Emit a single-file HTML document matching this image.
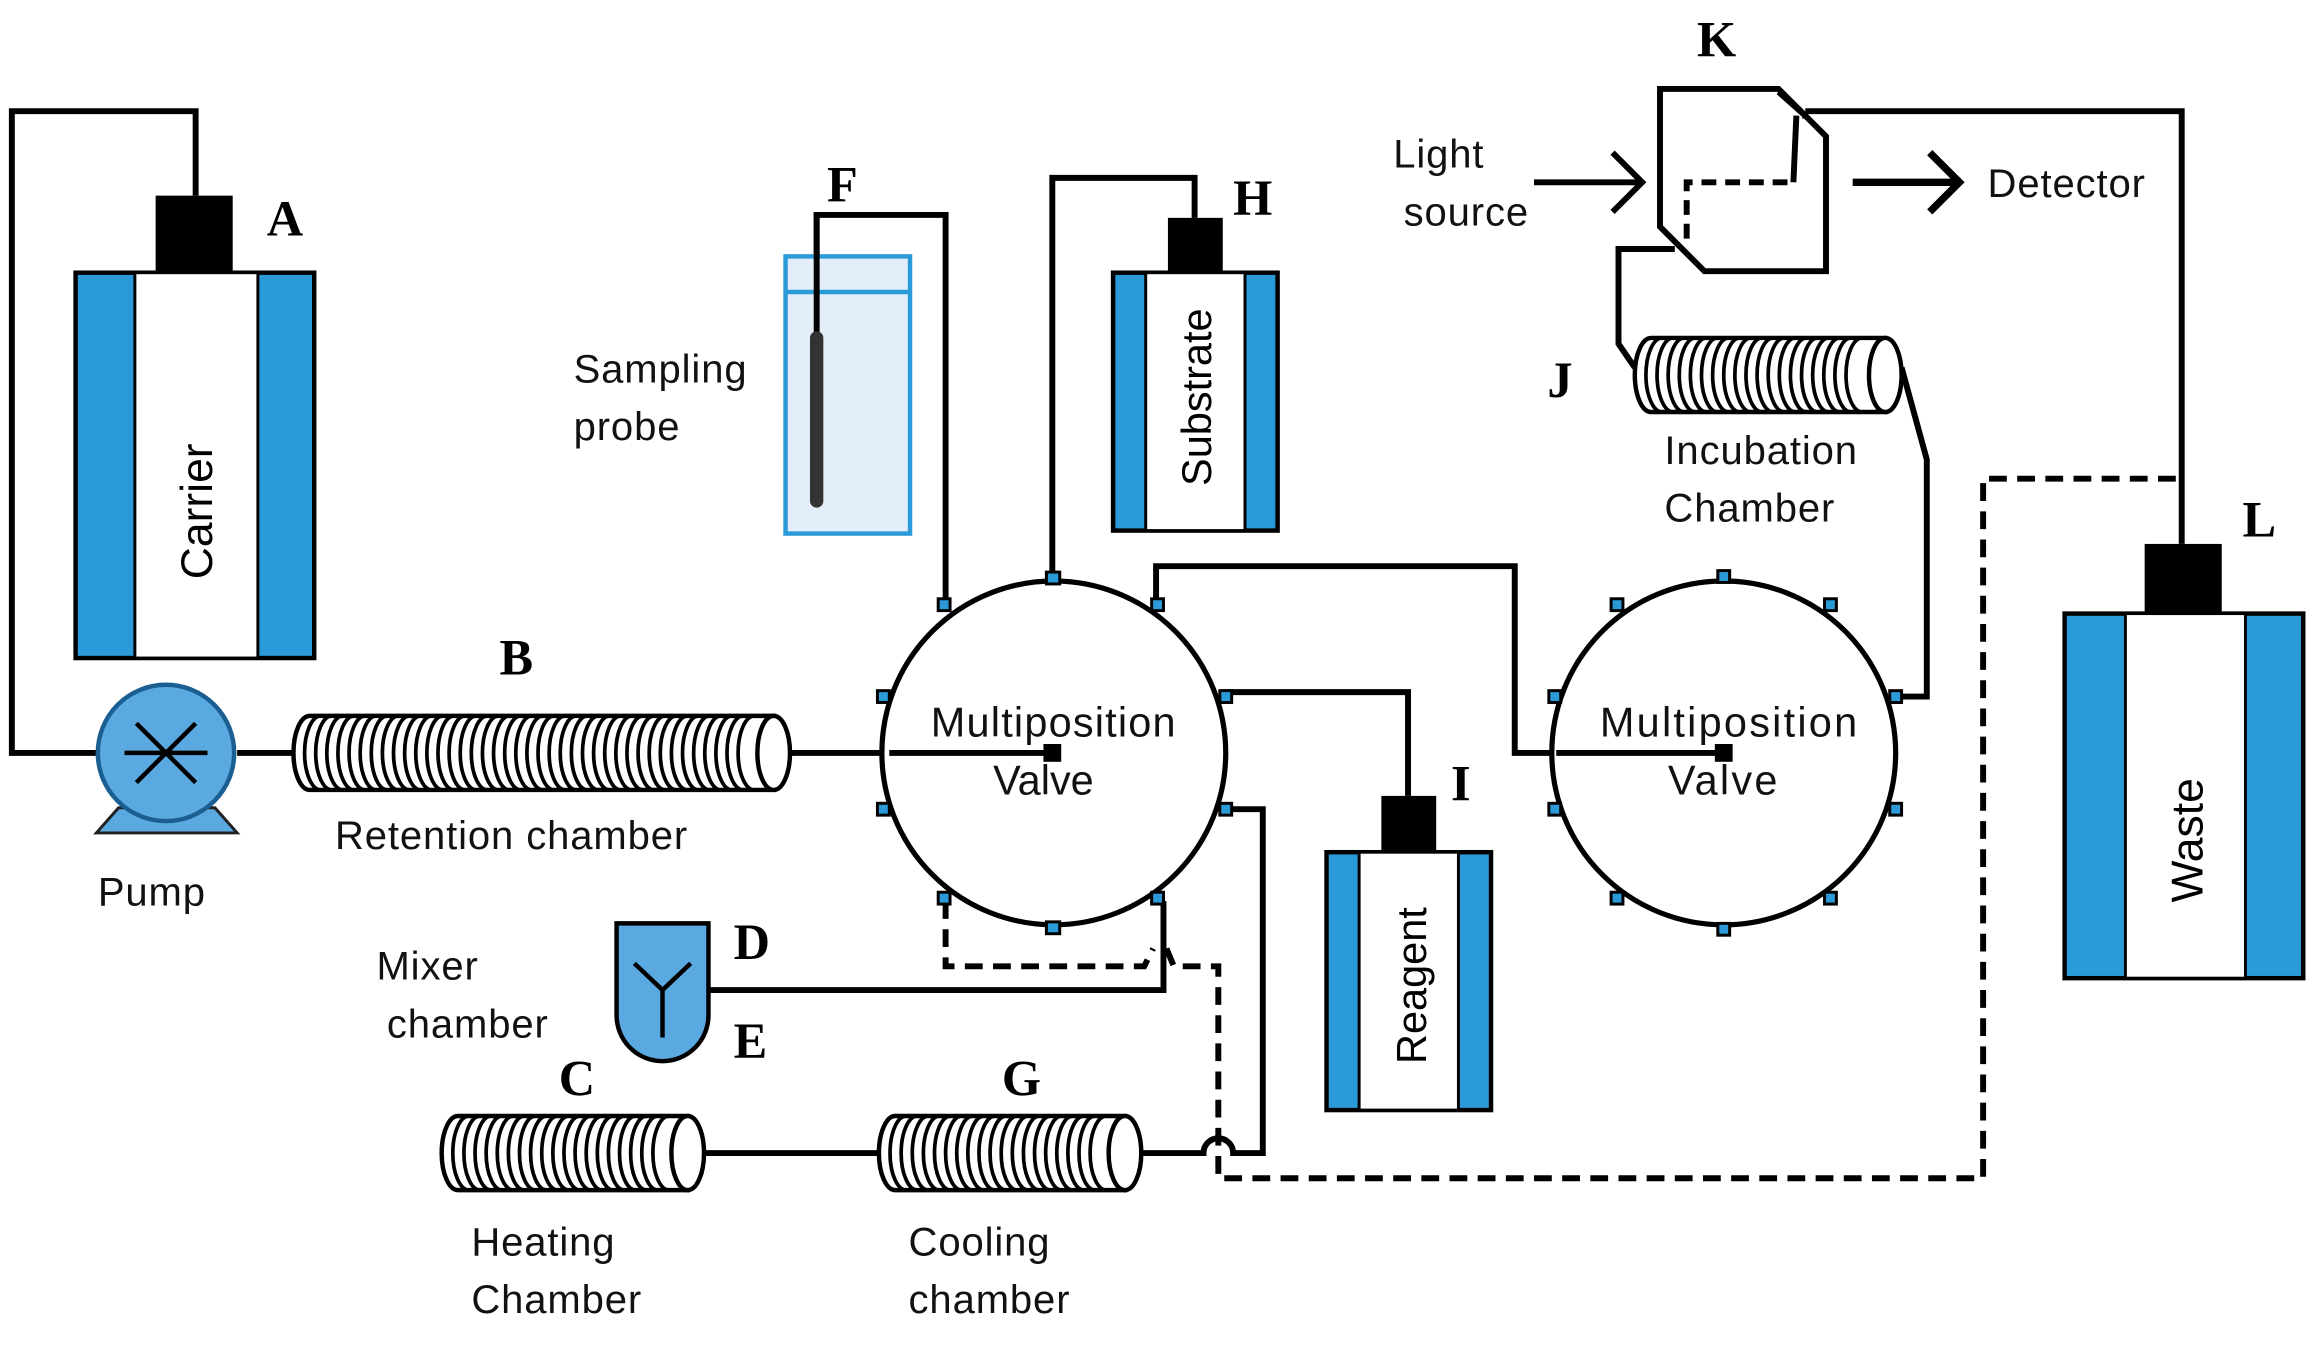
<!DOCTYPE html>
<html><head><meta charset="utf-8"><style>html,body{margin:0;padding:0;background:#fff}svg{display:block}</style></head>
<body>
<svg width="2324" height="1345" viewBox="0 0 1568 907.5" preserveAspectRatio="none" xmlns="http://www.w3.org/2000/svg">
<g stroke="#000" stroke-width="4" fill="none" stroke-linejoin="miter">
<path d="M132,132 V75 H8 V508 H65"/>
<path d="M160,508 H200"/>
<path d="M533,508 H710"/>
<path d="M551,228 V145 H638 V408"/>
<path d="M806,147 V120 H710 V392"/>
<path d="M780,408 V382 H1022 V508 H1163"/>
<path d="M950,537 V467 H825"/>
<path d="M827,546 H852 V778 H832 a10 10 0 0 0 -20 0 H770"/>
<path d="M475,778 H593"/>
<path d="M478,668 H785 V608"/>
<path d="M1472,367 V75 H1218"/>
<path d="M1130,168 H1092 V232 L1103,248"/>
<path d="M1283,248 L1300,310 V470 H1278"/>
<path d="M638,608 V652 H772 L778,640 M787,640 L792,652 H822 V795 H1338 V323 H1472" stroke-dasharray="12,7"/>
<path d="M1035,123 H1105 M1088,103 L1108,123 L1088,143"/>
<path d="M1250,123 H1322 M1302,103 L1322,123 L1302,143" stroke-width="5"/>
</g>
<g stroke="#000" stroke-width="4" fill="#fff">
<path d="M1120,60 H1200 L1232,92 V183 H1150 L1120,153 Z"/>
<path d="M1212,78 L1210,123" fill="none"/>
<path d="M1206,123 H1138 V162" fill="none" stroke-dasharray="10,6"/>
<path d="M1200,62 L1218,78 V80" fill="none"/>
</g>
<rect x="51" y="184" width="161" height="260" fill="#2a9bd8" stroke="#000" stroke-width="3"/>
<rect x="91" y="184" width="83" height="260" fill="#fff" stroke="#000" stroke-width="2"/>
<rect x="105" y="132" width="52" height="51" fill="#000"/>
<text transform="translate(143,345) rotate(-90)" font-family="Liberation Sans, sans-serif" font-size="30" text-anchor="middle">Carrier</text>
<path d="M65,562 L80,545 H145 L160,562 Z" fill="#5aa9e0" stroke="#222" stroke-width="2"/>
<circle cx="112" cy="508" r="46" fill="#5aa9e0" stroke="#1b5f92" stroke-width="3"/>
<path d="M84,508 H140 M92,488 L132,528 M132,488 L92,528" stroke="#000" stroke-width="3"/>
<rect x="751" y="184" width="111" height="174" fill="#2a9bd8" stroke="#000" stroke-width="3"/>
<rect x="773" y="184" width="67" height="174" fill="#fff" stroke="#000" stroke-width="2"/>
<rect x="788" y="147" width="37" height="37" fill="#000"/>
<text transform="translate(817,268) rotate(-90)" font-family="Liberation Sans, sans-serif" font-size="28" text-anchor="middle">Substrate</text>
<rect x="895" y="575" width="111" height="174" fill="#2a9bd8" stroke="#000" stroke-width="3"/>
<rect x="917" y="575" width="67" height="174" fill="#fff" stroke="#000" stroke-width="2"/>
<rect x="932" y="537" width="37" height="38" fill="#000"/>
<text transform="translate(962,665) rotate(-90)" font-family="Liberation Sans, sans-serif" font-size="28" text-anchor="middle">Reagent</text>
<rect x="1393" y="414" width="161" height="246" fill="#2a9bd8" stroke="#000" stroke-width="3"/>
<rect x="1434" y="414" width="81" height="246" fill="#fff" stroke="#000" stroke-width="2"/>
<rect x="1447" y="367" width="52" height="47" fill="#000"/>
<text transform="translate(1486,567) rotate(-90)" font-family="Liberation Sans, sans-serif" font-size="30" text-anchor="middle">Waste</text>
<rect x="530" y="173" width="84" height="187" fill="#e3eefa" stroke="#2a9bd8" stroke-width="3"/>
<path d="M530,197 H614" stroke="#2a9bd8" stroke-width="3"/>
<path d="M551,143 V230" stroke="#000" stroke-width="4"/>
<path d="M551,228 V338" stroke="#333" stroke-width="9" stroke-linecap="round"/>
<path d="M416,623 H478 V685 a31 31 0 0 1 -62 0 Z" fill="#5aa9e0" stroke="#000" stroke-width="3"/>
<path d="M428,650 L447,668 L466,650 M447,668 V700" stroke="#000" stroke-width="3" fill="none"/>
<g stroke="#000" stroke-width="3.5" fill="#fff">
<circle cx="711" cy="508" r="116"/>
<circle cx="1163" cy="508" r="116"/>
</g>
<g fill="#2a9bd8" stroke="#000" stroke-width="2">
<rect x="706" y="386" width="9" height="8"/><rect x="706" y="622" width="9" height="8"/>
<rect x="633" y="404" width="8" height="8"/><rect x="777" y="404" width="8" height="8"/>
<rect x="592" y="466" width="8" height="8"/><rect x="823" y="466" width="8" height="8"/>
<rect x="592" y="542" width="8" height="8"/><rect x="823" y="542" width="8" height="8"/>
<rect x="633" y="602" width="8" height="8"/><rect x="777" y="602" width="8" height="8"/>
<rect x="1159" y="385" width="8" height="8"/><rect x="1159" y="623" width="8" height="8"/>
<rect x="1087" y="404" width="8" height="8"/><rect x="1231" y="404" width="8" height="8"/>
<rect x="1045" y="466" width="8" height="8"/><rect x="1275" y="466" width="8" height="8"/>
<rect x="1045" y="542" width="8" height="8"/><rect x="1275" y="542" width="8" height="8"/>
<rect x="1087" y="602" width="8" height="8"/><rect x="1231" y="602" width="8" height="8"/>
</g>
<path d="M600,508 H710 M1050,508 H1163" stroke="#000" stroke-width="4"/>
<rect x="704" y="502" width="12" height="12" fill="#000"/>
<rect x="1157" y="502" width="12" height="12" fill="#000"/>
<g font-family="Liberation Sans, sans-serif" font-size="28" fill="#111">
<text x="711" y="497" text-anchor="middle" letter-spacing="0.8">Multiposition</text>
<text x="704" y="536" text-anchor="middle">Valve</text>
<text x="1167" y="497" text-anchor="middle" letter-spacing="1.5">Multiposition</text>
<text x="1163" y="536" text-anchor="middle" letter-spacing="1.5">Valve</text>
</g>
<g stroke="#000" stroke-width="3" fill="#fff">
<path d="M209,483 H522 V533 H209 a11 25 0 0 1 0 -50 Z"/>
<path d="M309,753 H464 V803 H309 a11 25 0 0 1 0 -50 Z"/>
<path d="M604,753 H759 V803 H604 a11 25 0 0 1 0 -50 Z"/>
<path d="M1114,228 H1272 V278 H1114 a11 25 0 0 1 0 -50 Z"/>
</g>
<g stroke="#000" stroke-width="2.5" fill="none">
<path d="M209,483 a11 25 0 0 0 0 50m7.5-50a11 25 0 0 0 0 50m7.5-50a11 25 0 0 0 0 50m7.5-50a11 25 0 0 0 0 50m7.5-50a11 25 0 0 0 0 50m7.5-50a11 25 0 0 0 0 50m7.5-50a11 25 0 0 0 0 50m7.5-50a11 25 0 0 0 0 50m7.5-50a11 25 0 0 0 0 50m7.5-50a11 25 0 0 0 0 50m7.5-50a11 25 0 0 0 0 50m7.5-50a11 25 0 0 0 0 50m7.5-50a11 25 0 0 0 0 50m7.5-50a11 25 0 0 0 0 50m7.5-50a11 25 0 0 0 0 50m7.5-50a11 25 0 0 0 0 50m7.5-50a11 25 0 0 0 0 50m7.5-50a11 25 0 0 0 0 50m7.5-50a11 25 0 0 0 0 50m7.5-50a11 25 0 0 0 0 50m7.5-50a11 25 0 0 0 0 50m7.5-50a11 25 0 0 0 0 50m7.5-50a11 25 0 0 0 0 50m7.5-50a11 25 0 0 0 0 50m7.5-50a11 25 0 0 0 0 50m7.5-50a11 25 0 0 0 0 50m7.5-50a11 25 0 0 0 0 50m7.5-50a11 25 0 0 0 0 50m7.5-50a11 25 0 0 0 0 50m7.5-50a11 25 0 0 0 0 50m7.5-50a11 25 0 0 0 0 50m7.5-50a11 25 0 0 0 0 50m7.5-50a11 25 0 0 0 0 50m7.5-50a11 25 0 0 0 0 50m7.5-50a11 25 0 0 0 0 50m7.5-50a11 25 0 0 0 0 50m7.5-50a11 25 0 0 0 0 50m7.5-50a11 25 0 0 0 0 50m7.5-50a11 25 0 0 0 0 50m7.5-50a11 25 0 0 0 0 50m7.5-50a11 25 0 0 0 0 50"/>
<path d="M309,753 a11 25 0 0 0 0 50m7.5-50a11 25 0 0 0 0 50m7.5-50a11 25 0 0 0 0 50m7.5-50a11 25 0 0 0 0 50m7.5-50a11 25 0 0 0 0 50m7.5-50a11 25 0 0 0 0 50m7.5-50a11 25 0 0 0 0 50m7.5-50a11 25 0 0 0 0 50m7.5-50a11 25 0 0 0 0 50m7.5-50a11 25 0 0 0 0 50m7.5-50a11 25 0 0 0 0 50m7.5-50a11 25 0 0 0 0 50m7.5-50a11 25 0 0 0 0 50m7.5-50a11 25 0 0 0 0 50m7.5-50a11 25 0 0 0 0 50m7.5-50a11 25 0 0 0 0 50m7.5-50a11 25 0 0 0 0 50m7.5-50a11 25 0 0 0 0 50m7.5-50a11 25 0 0 0 0 50m7.5-50a11 25 0 0 0 0 50"/>
<path d="M604,753 a11 25 0 0 0 0 50m7.5-50a11 25 0 0 0 0 50m7.5-50a11 25 0 0 0 0 50m7.5-50a11 25 0 0 0 0 50m7.5-50a11 25 0 0 0 0 50m7.5-50a11 25 0 0 0 0 50m7.5-50a11 25 0 0 0 0 50m7.5-50a11 25 0 0 0 0 50m7.5-50a11 25 0 0 0 0 50m7.5-50a11 25 0 0 0 0 50m7.5-50a11 25 0 0 0 0 50m7.5-50a11 25 0 0 0 0 50m7.5-50a11 25 0 0 0 0 50m7.5-50a11 25 0 0 0 0 50m7.5-50a11 25 0 0 0 0 50m7.5-50a11 25 0 0 0 0 50m7.5-50a11 25 0 0 0 0 50m7.5-50a11 25 0 0 0 0 50m7.5-50a11 25 0 0 0 0 50m7.5-50a11 25 0 0 0 0 50"/>
<path d="M1114,228 a11 25 0 0 0 0 50m7.5-50a11 25 0 0 0 0 50m7.5-50a11 25 0 0 0 0 50m7.5-50a11 25 0 0 0 0 50m7.5-50a11 25 0 0 0 0 50m7.5-50a11 25 0 0 0 0 50m7.5-50a11 25 0 0 0 0 50m7.5-50a11 25 0 0 0 0 50m7.5-50a11 25 0 0 0 0 50m7.5-50a11 25 0 0 0 0 50m7.5-50a11 25 0 0 0 0 50m7.5-50a11 25 0 0 0 0 50m7.5-50a11 25 0 0 0 0 50m7.5-50a11 25 0 0 0 0 50m7.5-50a11 25 0 0 0 0 50m7.5-50a11 25 0 0 0 0 50m7.5-50a11 25 0 0 0 0 50m7.5-50a11 25 0 0 0 0 50m7.5-50a11 25 0 0 0 0 50m7.5-50a11 25 0 0 0 0 50"/>
</g>
<g stroke="#000" stroke-width="3" fill="#fff">
<ellipse cx="522" cy="508" rx="11" ry="25"/>
<ellipse cx="464" cy="778" rx="11" ry="25"/>
<ellipse cx="759" cy="778" rx="11" ry="25"/>
<ellipse cx="1272" cy="253" rx="11" ry="25"/>
</g>
<g font-family="Liberation Serif, serif" font-weight="bold" font-size="34" fill="#000">
<text x="180" y="159">A</text>
<text x="337" y="455">B</text>
<text x="377" y="739">C</text>
<text x="495" y="647">D</text>
<text x="495" y="714">E</text>
<text x="558" y="136">F</text>
<text x="676" y="739">G</text>
<text x="832" y="145">H</text>
<text x="979" y="540">I</text>
<text x="1044" y="268">J</text>
<text x="1145" y="38">K</text>
<text x="1513" y="362">L</text>
</g>
<g font-family="Liberation Sans, sans-serif" font-size="27" fill="#111" letter-spacing="0.6">
<text x="387" y="258">Sampling</text>
<text x="387" y="297">probe</text>
<text x="66" y="611">Pump</text>
<text x="226" y="573">Retention chamber</text>
<text x="254" y="661">Mixer</text>
<text x="261" y="700">chamber</text>
<text x="318" y="847">Heating</text>
<text x="318" y="886">Chamber</text>
<text x="613" y="847">Cooling</text>
<text x="613" y="886">chamber</text>
<text x="940" y="113">Light</text>
<text x="947" y="152">source</text>
<text x="1341" y="133">Detector</text>
<text x="1123" y="313">Incubation</text>
<text x="1123" y="352">Chamber</text>
</g>
</svg>
</body></html>
